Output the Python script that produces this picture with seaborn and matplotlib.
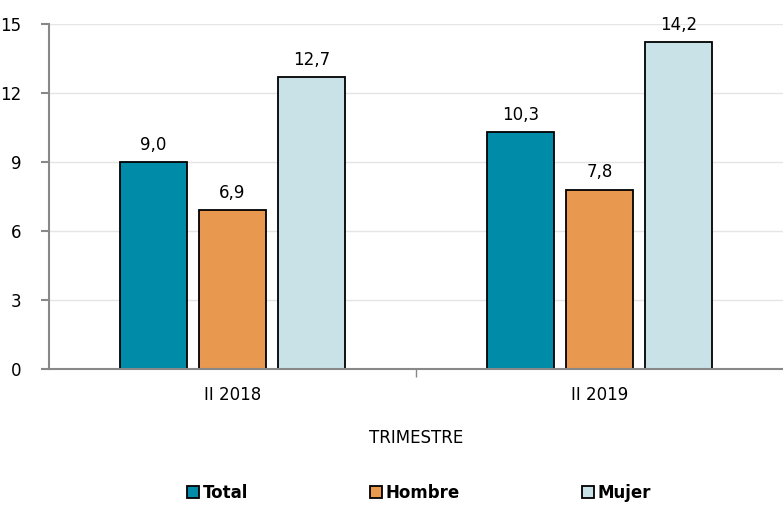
import matplotlib
matplotlib.use("Agg")
import matplotlib.pyplot as plt
import seaborn as sns
import pandas as pd
from matplotlib.patches import Patch

categories = ["II 2018", "II 2019"]
series = ["Total", "Hombre", "Mujer"]
total = [9.0, 10.3]
hombre = [6.9, 7.8]
mujer = [12.7, 14.2]
colors = ["#008BA8", "#E8994F", "#C9E2E8"]
yticks = [0, 3, 6, 9, 12, 15]

rows = []
for s, vals in zip(series, [total, hombre, mujer]):
    for c, v in zip(categories, vals):
        rows.append({"Trimestre": c, "Serie": s, "Valor": v})
df = pd.DataFrame(rows)

sns.set_style("white")
plt.rcParams["font.family"] = ["DejaVu Sans"]
plt.rcParams["text.color"] = "black"
plt.rcParams["xtick.color"] = "black"
plt.rcParams["ytick.color"] = "black"

fig = plt.figure(figsize=(7.83, 5.07), dpi=100)
ax = fig.add_axes([49/783, 1-369/507, 1-49/783, (369-24)/507])

sns.barplot(data=df, x="Trimestre", y="Valor", hue="Serie", order=categories,
            hue_order=series, palette=colors, width=0.645, gap=0.15,
            edgecolor="black", linewidth=1.3, ax=ax, legend=False, saturation=1)

for cont in ax.containers:
    ax.bar_label(cont, labels=[f"{v:.1f}".replace(".", ",") for v in cont.datavalues],
                 padding=6, fontsize=12, color="black")

ax.set_xlim(-0.5, 1.5)
ax.set_ylim(0, 15)
ax.set_yticks(yticks)
ax.set_yticklabels([str(t) for t in yticks], fontsize=12)
ax.tick_params(axis="y", left=True, length=6, color="#888888", labelcolor="black",
               width=1.5, pad=14)
ax.set_xticks([0, 1])
ax.set_xticklabels(categories, fontsize=12)
ax.set_xticks([0.5], minor=True)
ax.tick_params(axis="x", which="major", bottom=False, length=0, pad=12, labelcolor="black")
ax.tick_params(axis="x", which="minor", bottom=True, length=6, color="#888888", width=1)
ax.yaxis.grid(True, color="#E5E5E5", linewidth=1)
ax.set_axisbelow(True)
for side in ["top", "right"]:
    ax.spines[side].set_visible(False)
for side in ["left", "bottom"]:
    ax.spines[side].set_color("#888888")
    ax.spines[side].set_linewidth(1.5)
ax.set_ylabel("")
ax.set_xlabel("TRIMESTRE", fontsize=12, labelpad=18, color="black")

handles = [Patch(facecolor=c, edgecolor="black", linewidth=1.3) for c in colors]
leg = fig.legend(handles, series, loc="center", bbox_to_anchor=(0.535, 0.028),
                 ncol=3, frameon=False, columnspacing=7.3, handlelength=0.75,
                 handleheight=0.75, handletextpad=0.2,
                 prop={"weight": "bold", "size": 12})

fig.savefig("out.png", dpi=100)
